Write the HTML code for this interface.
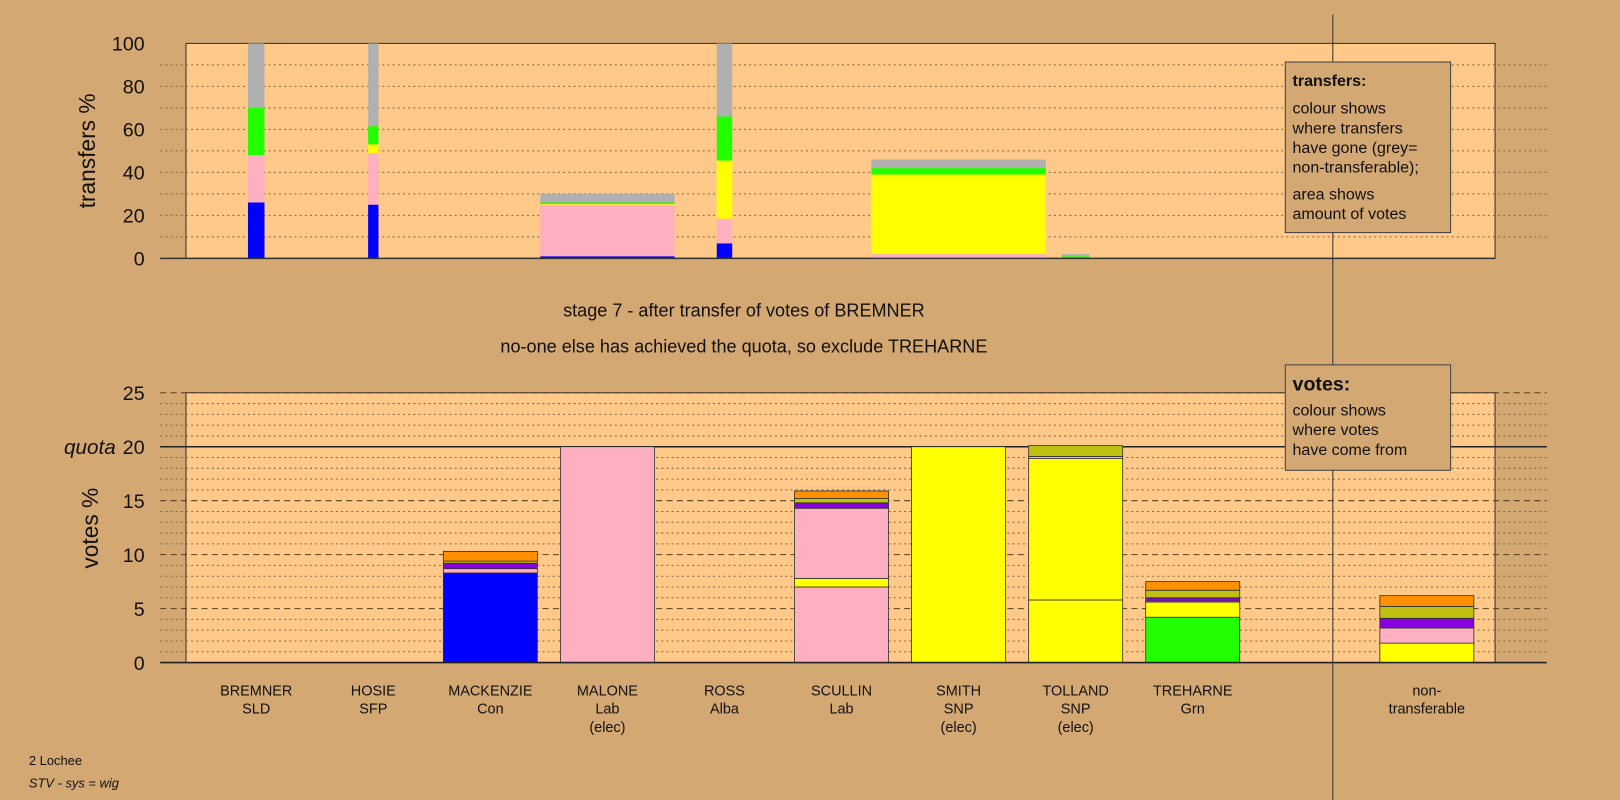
<!DOCTYPE html>
<html><head><meta charset="utf-8"><style>
html,body{margin:0;padding:0;background:#d4a873;}
svg{display:block;font-family:"Liberation Sans",sans-serif;}
</style></head><body>
<svg id="chart" width="1620" height="800" viewBox="0 0 1620 800" xmlns="http://www.w3.org/2000/svg">
<rect x="0" y="0" width="1620" height="800" fill="#d4a873"/>
<g transform="scale(1.0332 1.0336)">
<g id="topChart"></g>
<g id="botChart"></g>
<line x1="1290" y1="14" x2="1290" y2="775" stroke="#333" stroke-width="1"/>
<text x="720" y="306" font-size="17.5" text-anchor="middle" fill="#111">stage 7 - after transfer of votes of BREMNER</text>
<text x="720" y="341" font-size="17.5" text-anchor="middle" fill="#111">no-one else has achieved the quota, so exclude TREHARNE</text>
<g>
<rect x="1244" y="60" width="160" height="165" fill="#d4a873" stroke="#444" stroke-width="1"/>
<text x="1251" y="83" font-size="15.5" font-weight="bold" fill="#111">transfers:</text>
<text font-size="15.5" fill="#111"><tspan x="1251" y="110">colour shows</tspan><tspan x="1251" y="129">where transfers</tspan><tspan x="1251" y="148">have gone (grey=</tspan><tspan x="1251" y="167">non-transferable);</tspan><tspan x="1251" y="193">area shows</tspan><tspan x="1251" y="212">amount of votes</tspan></text>
</g>
<g>
<rect x="1244" y="353" width="160" height="102" fill="#d4a873" stroke="#444" stroke-width="1"/>
<text x="1251" y="378" font-size="19" font-weight="bold" fill="#111">votes:</text>
<text font-size="15.5" fill="#111"><tspan x="1251" y="402">colour shows</tspan><tspan x="1251" y="421">where votes</tspan><tspan x="1251" y="440">have come from</tspan></text>
</g>
<text x="28" y="740" font-size="12.5" fill="#111">2 Lochee</text>
<text x="28" y="762" font-size="12.5" font-style="italic" fill="#111">STV - sys = wig</text>
</g>
</svg>
<script>
const categories = ["BREMNER","HOSIE","MACKENZIE","MALONE","ROSS","SCULLIN","SMITH","TOLLAND","TREHARNE","","non-"];
const parties = ["SLD","SFP","Con","Lab","Alba","Lab","SNP","SNP","Grn","","transferable"];
const elected = ["","","","(elec)","","","(elec)","(elec)","","",""];
const colours = {blue:"#0000ff",pink:"#ffb0c0",yellow:"#ffff00",green:"#22ff00",grey:"#b0b0b0",purple:"#8800dd",olive:"#c0c010",orange:"#ff9000"};
const transferCats = [0,1,3,4,6,7];
const transferWidths = [16,10,130,15,169,27];
const transferColours = [
 ["blue","pink","green","grey"],
 ["blue","pink","yellow","green","grey"],
 ["blue","pink","yellow","green","grey"],
 ["blue","pink","yellow","green","grey"],
 ["pink","yellow","green","grey"],
 ["green","grey"]];
const transferValues = [
 [26,22,22,30],
 [25,24,4,8.5,38.5],
 [1,24,0.3,0.7,4],
 [7,11.5,27,20.5,34],
 [2,37,3,4],
 [1,1]];
const topTicks = [0,20,40,60,80,100];
const voteCats = [2,3,5,6,7,8,10];
const voteColours = [
 ["blue","pink","purple","olive","orange"],
 ["pink"],
 ["pink","yellow","pink","purple","olive","orange"],
 ["yellow"],
 ["yellow","yellow","pink","olive"],
 ["green","yellow","pink","purple","olive","orange"],
 ["yellow","pink","purple","olive","orange"]];
const voteValues = [
 [8.3,0.4,0.5,0.2,0.9],
 [20],
 [7.0,0.8,6.5,0.5,0.4,0.7],
 [20],
 [5.8,13.1,0.2,1.0],
 [4.2,1.4,0.1,0.3,0.7,0.8],
 [1.8,1.4,0.9,1.1,1.0]];
const botTicks = [0,5,10,15,20,25];
const quota = 20;

const NS="http://www.w3.org/2000/svg";
function mk(tag,attrs,parent){const e=document.createElementNS(NS,tag);for(const k in attrs)e.setAttribute(k,attrs[k]);parent.appendChild(e);return e;}
const xC = i => 248 + i*113.3;
const yT = v => 250 - v*2.08;
const yB = v => 641 - v*10.44;
const topG=document.getElementById('topChart'), botG=document.getElementById('botChart');

let r=mk('rect',{x:180,y:42,width:1267,height:208,fill:'#ffc98a',stroke:'#333','stroke-width':1},topG);


for(let v=10;v<100;v+=10){
 let l=mk('line',{x1:155,x2:1497,y1:yT(v),y2:yT(v),stroke:'#8a6a40','stroke-width':1,'stroke-dasharray':'2,3'},topG);
 
 
}
topTicks.forEach(t=>{
 let tx=mk('text',{x:140,y:yT(t)+7,'font-size':19,'text-anchor':'end',fill:'#111'},topG);
 tx.textContent=t;
 
 
});
let ya=mk('text',{x:92,y:146,'font-size':22,'text-anchor':'middle',fill:'#111',transform:'rotate(-90 92 146)'},topG);
ya.textContent='transfers %';


transferCats.forEach((c,i)=>{
 let acc=0;const w=transferWidths[i];
 transferValues[i].forEach((v,j)=>{
  let s=mk('rect',{x:xC(c)-w/2,y:yT(acc+v),width:w,height:v*2.08,fill:colours[transferColours[i][j]]},topG);
  
  
  acc+=v;
 });
});
mk('line',{x1:155,x2:1447,y1:250,y2:250,stroke:'#333','stroke-width':1.5},topG);

r=mk('rect',{x:180,y:yB(25),width:1267,height:25*10.44,fill:'#ffc98a',stroke:'#333','stroke-width':1},botG);


for(let v=1;v<=25;v++){
 if(v===quota) continue;
 const major=v%5===0;
 let l=mk('line',{x1:155,x2:1497,y1:yB(v),y2:yB(v),stroke:major?'#5a4020':'#8a6a40','stroke-width':1,'stroke-dasharray':major?'6,4':'2,3'},botG);
 
 
}
let q=mk('line',{x1:155,x2:1497,y1:yB(quota),y2:yB(quota),stroke:'#222','stroke-width':1.5},botG);


botTicks.forEach(t=>{
 let tx=mk('text',{x:140,y:yB(t)+7,'font-size':19,'text-anchor':'end',fill:'#111'},botG);
 tx.textContent=t;
 
 
});
let ql=mk('text',{x:112,y:yB(quota)+7,'font-size':20,'font-style':'italic','text-anchor':'end',fill:'#111'},botG);
ql.textContent='quota';


let yb=mk('text',{x:95,y:511,'font-size':22,'text-anchor':'middle',fill:'#111',transform:'rotate(-90 95 511)'},botG);
yb.textContent='votes %';


voteCats.forEach((c,i)=>{
 let acc=0;
 voteValues[i].forEach((v,j)=>{
  let s=mk('rect',{x:xC(c)-45.5,y:yB(acc+v),width:91,height:v*10.44,fill:colours[voteColours[i][j]],stroke:'#333','stroke-width':0.8},botG);
  
  
  acc+=v;
 });
});
mk('line',{x1:155,x2:1497,y1:641,y2:641,stroke:'#222','stroke-width':1.5},botG);
categories.forEach((c,i)=>{
 if(!c) return;
 const lines=[c,parties[i],elected[i]].filter(Boolean);
 lines.forEach((t,k)=>{
  let tx=mk('text',{x:xC(i),y:673+k*17.5,'font-size':14,'text-anchor':'middle',fill:'#111'},botG);
  tx.textContent=t;
  
  
 });
});
</script>
</body></html>
